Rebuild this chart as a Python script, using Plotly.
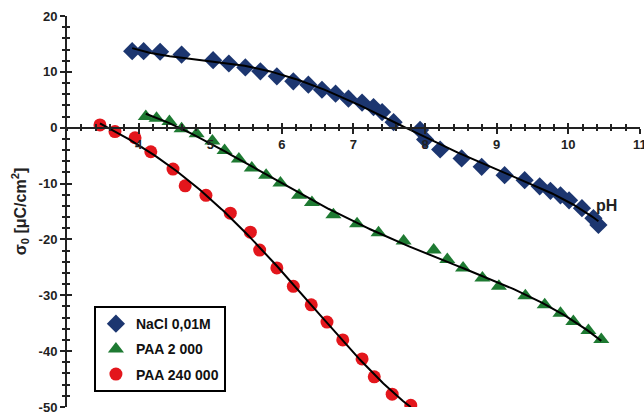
import numpy as np
import plotly.graph_objects as go

# --- data ---
nacl_ph = [3.91, 4.07, 4.30, 4.60, 5.04, 5.26, 5.49, 5.70, 5.93, 6.16, 6.37, 6.56, 6.75, 6.93,
           7.12, 7.28, 7.40, 7.56, 7.93, 8.00, 8.21, 8.51, 8.79, 9.11, 9.39, 9.60, 9.75, 9.89,
           10.01, 10.19, 10.35, 10.42]
nacl_sigma = [13.7, 13.7, 13.6, 13.1, 12.1, 11.5, 10.8, 10.1, 9.2, 8.3, 7.7, 6.8, 6.1, 5.2,
              4.5, 3.7, 2.8, 1.0, -0.4, -2.1, -3.9, -5.5, -7.0, -8.5, -9.4, -10.5, -11.3, -12.1,
              -13.0, -14.4, -16.2, -17.4]

paa2k_ph = [4.10, 4.25, 4.43, 4.60, 4.81, 5.03, 5.20, 5.40, 5.58, 5.78, 5.98, 6.24, 6.42, 6.72,
            7.05, 7.35, 7.70, 8.12, 8.31, 8.53, 8.80, 9.03, 9.40, 9.67, 9.89, 10.07, 10.28, 10.46]
paa2k_sigma = [2.0, 1.7, 1.1, -0.2, -1.1, -2.4, -4.1, -5.6, -7.2, -8.5, -9.9, -12.1, -13.4, -15.6,
               -17.2, -18.8, -20.3, -21.9, -23.6, -25.1, -26.9, -28.4, -30.1, -31.7, -33.2, -34.7,
               -36.3, -37.9]

paa240k_ph = [3.46, 3.67, 3.95, 4.17, 4.48, 4.65, 4.94, 5.28, 5.56, 5.69, 5.93, 6.16, 6.41, 6.63,
              6.85, 7.12, 7.29, 7.54, 7.80]
paa240k_sigma = [0.5, -0.7, -1.8, -4.3, -7.4, -10.4, -12.1, -15.3, -18.7, -21.9, -25.1, -28.4,
                 -31.7, -34.8, -38.0, -41.4, -44.6, -47.7, -49.7]

series_names = ["NaCl 0,01M", "PAA 2 000", "PAA 240 000"]
x_ticks = [4, 5, 6, 7, 8, 9, 10, 11]
y_ticks = [20, 10, 0, -10, -20, -30, -40, -50]

# --- styles ---
colors = ["#1c3670", "#1e7a32", "#e3161c"]
symbols = ["diamond", "triangle-up", "circle"]
sizes = [14, 14, 13]
tick_font = dict(family="Liberation Sans, Arial", size=13, color="#222222", weight="bold")

fig = go.Figure()

datasets = [(nacl_ph, nacl_sigma, 5), (paa2k_ph, paa2k_sigma, 4), (paa240k_ph, paa240k_sigma, 4)]
for i, (xs, ys, deg) in enumerate(datasets):
    fig.add_trace(go.Scatter(
        x=xs, y=ys, mode="markers", name=series_names[i], legendgroup=str(i),
        marker=dict(symbol=symbols[i], size=sizes[i], color=colors[i], line=dict(width=0)),
    ))

# polynomial trendlines (computed from the data)
for i, (xs, ys, deg) in enumerate(datasets):
    xs = np.array(xs)
    ys = np.array(ys)
    coef = np.polyfit(xs, ys, deg)
    xf = np.linspace(xs.min(), xs.max(), 200)
    fig.add_trace(go.Scatter(
        x=xf, y=np.polyval(coef, xf), mode="lines", showlegend=False, hoverinfo="skip",
        line=dict(color="black", width=2),
    ))

# dummy trace to render overlay axes
fig.add_trace(go.Scatter(x=[None], y=[None], xaxis="x2", yaxis="y2", showlegend=False))

pos0 = 50 / 70
x_range = [3, 11.0005]

fig.add_annotation(x=10.53, y=-13.9, text="pH", showarrow=False,
                   font=dict(family="Liberation Sans, Arial", size=16, color="#222222", weight="bold"))

fig.update_layout(
    width=644, height=413,
    margin=dict(l=67, r=4, t=16, b=6, autoexpand=False),
    paper_bgcolor="white", plot_bgcolor="white",
    showlegend=True,
    legend=dict(
        x=0.047, y=0.258, xanchor="left", yanchor="top",
        bordercolor="black", borderwidth=2, bgcolor="white",
        font=dict(family="Liberation Sans, Arial", size=14, color="#111111", weight="bold"),
        tracegroupgap=4, itemwidth=30,
    ),
    xaxis=dict(
        range=x_range, anchor="free", position=pos0,
        tickvals=x_ticks, ticktext=[str(v) for v in x_ticks],
        ticks="outside", ticklen=5, tickwidth=2, tickcolor="#222222",
        minor=dict(dtick=0.2, ticks="outside", ticklen=2, tickwidth=1.5, tickcolor="#222222"),
        showline=True, linecolor="#222222", linewidth=2,
        showgrid=False, zeroline=False, tickfont=tick_font,
        ticklabeloverflow="allow",
    ),
    xaxis2=dict(
        range=x_range, anchor="free", position=pos0, overlaying="x",
        tickvals=x_ticks, showticklabels=False,
        ticks="inside", ticklen=5, tickwidth=2, tickcolor="#222222",
        minor=dict(dtick=0.2, ticks="inside", ticklen=4, tickwidth=1.5, tickcolor="#222222"),
        showline=False, showgrid=False, zeroline=False,
    ),
    yaxis=dict(
        range=[-50, 20], tickvals=y_ticks, ticktext=[str(v) for v in y_ticks],
        ticks="outside", ticklen=5, tickwidth=2, tickcolor="#222222",
        minor=dict(dtick=2, ticks="outside", ticklen=3, tickwidth=1.5, tickcolor="#222222"),
        showline=True, linecolor="#222222", linewidth=2,
        showgrid=False, zeroline=False, tickfont=tick_font,
        ticklabeloverflow="allow",
        title=dict(text="σ<sub>0</sub> [μC/cm<sup>2</sup>]", standoff=8,
                   font=dict(family="Liberation Sans, Arial", size=16, color="#222222", weight="bold")),
    ),
    yaxis2=dict(
        range=[-50, 20], overlaying="y", anchor="x", side="left",
        tickvals=y_ticks, showticklabels=False,
        ticks="inside", ticklen=5, tickwidth=2, tickcolor="#222222",
        minor=dict(dtick=2, ticks="inside", ticklen=3, tickwidth=1.5, tickcolor="#222222"),
        showline=False, showgrid=False, zeroline=False,
    ),
)

fig.write_html("out.html", config={"displayModeBar": False},
               post_script="document.body.style.margin='0';")
